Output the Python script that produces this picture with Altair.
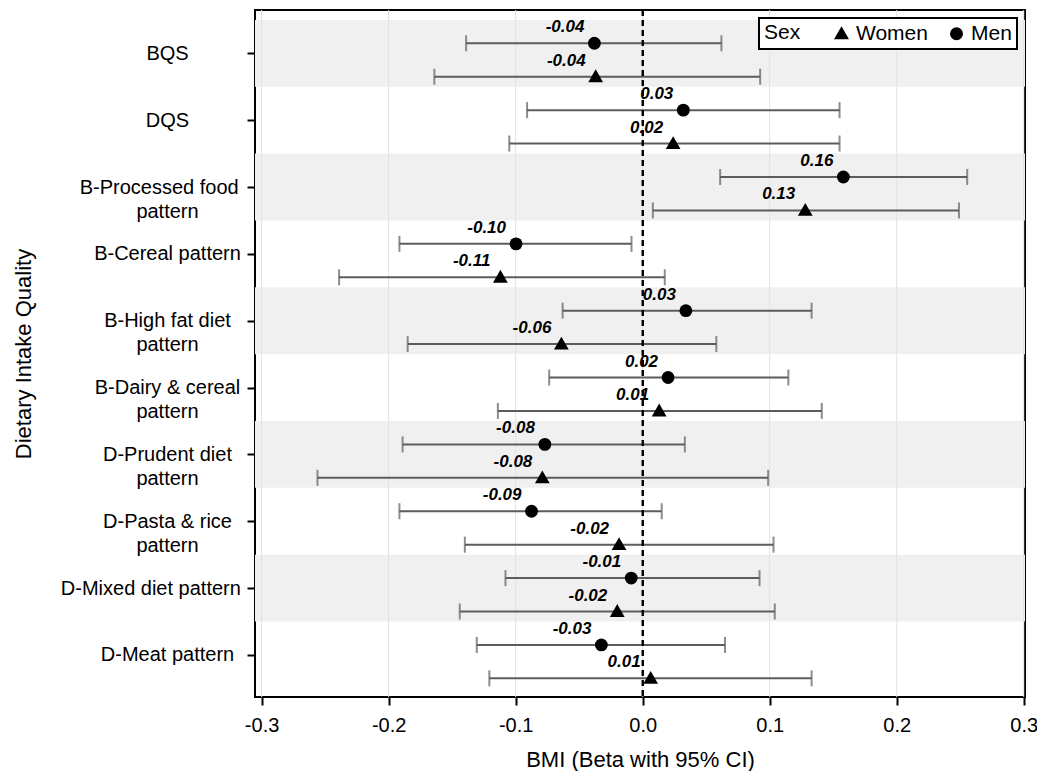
import altair as alt
import pandas as pd

# ---------------- data ----------------
CATEGORIES = [
    "BQS", "DQS", "B-Processed food pattern", "B-Cereal pattern",
    "B-High fat diet pattern", "B-Dairy & cereal pattern", "D-Prudent diet pattern",
    "D-Pasta & rice pattern", "D-Mixed diet pattern", "D-Meat pattern",
]
# axis label lines; trailing NBSPs (closed by a zero-width char so they are not trimmed)
# shift the widest labels left, as in the original
NB = "\u00a0"
ZW = "\u200b"
LABEL_LINES = [
    ["BQS"], ["DQS"], ["B-Processed food" + NB * 3 + ZW, "pattern"], ["B-Cereal pattern"],
    ["B-High fat diet", "pattern"], ["B-Dairy & cereal", "pattern"],
    ["D-Prudent diet", "pattern"], ["D-Pasta & rice", "pattern"],
    ["D-Mixed diet pattern" + NB * 6 + ZW], ["D-Meat pattern"],
]

MEN_BETA = [-0.038, 0.032, 0.158, -0.0997, 0.034, 0.020, -0.077, -0.0875, -0.009, -0.0325]
MEN_LO = [-0.139, -0.091, 0.061, -0.1915, -0.063, -0.0736, -0.189, -0.1915, -0.108, -0.1306]
MEN_HI = [0.062, 0.155, 0.2555, -0.0088, 0.133, 0.1147, 0.0332, 0.015, 0.092, 0.0648]

WOMEN_BETA = [-0.037, 0.024, 0.128, -0.112, -0.064, 0.013, -0.079, -0.0186, -0.020, 0.0063]
WOMEN_LO = [-0.164, -0.105, 0.008, -0.239, -0.185, -0.114, -0.256, -0.140, -0.144, -0.1207]
WOMEN_HI = [0.0925, 0.155, 0.249, 0.0174, 0.058, 0.141, 0.0988, 0.103, 0.104, 0.133]

SEXES = ["Women", "Men"]
X_TICKS = [-0.3, -0.2, -0.1, 0.0, 0.1, 0.2, 0.3]

# ---------------- layout constants ----------------
MEN_OFF, WOMEN_OFF = -0.15, 0.35
X_DOMAIN = [-0.3052, 0.301]
Y_DOMAIN = [-0.648, 9.629]
FONT = "Liberation Sans"
TRIANGLE = "M-1.15,0.85L1.15,0.85L0,-1.15Z"

rows = []
for i, c in enumerate(CATEGORIES):
    rows.append(dict(cat=c, idx=i, sex="Men", pos=i + MEN_OFF,
                     beta=MEN_BETA[i], lo=MEN_LO[i], hi=MEN_HI[i]))
    rows.append(dict(cat=c, idx=i, sex="Women", pos=i + WOMEN_OFF,
                     beta=WOMEN_BETA[i], lo=WOMEN_LO[i], hi=WOMEN_HI[i]))
df = pd.DataFrame(rows)

bands = pd.DataFrame([dict(y0=i - 0.5, y1=i + 0.5) for i in range(len(CATEGORIES)) if i % 2 == 0])
grid = pd.DataFrame(dict(v=X_TICKS))

label_js = "[" + ",".join("[" + ",".join("'" + s + "'" for s in lines) + "]" for lines in LABEL_LINES) + "]"

x_scale = alt.Scale(domain=X_DOMAIN, nice=False, zero=False)
y_scale = alt.Scale(domain=Y_DOMAIN, nice=False, zero=False, reverse=True)

x_axis = alt.Axis(values=X_TICKS,
                  labelExpr="datum.value < -0.0001 ? '-' + format(-datum.value, '.1f') : format(abs(datum.value), '.1f')",
                  title="BMI (Beta with 95% CI)",
                  tickSize=8, tickWidth=2, tickColor="black", labelFontSize=20,
                  labelPadding=10, titleFontSize=22, titleFontWeight="normal",
                  titleY=62, titleBaseline="middle", labelFlush=False, labelOverlap=False)
y_axis = alt.Axis(values=list(range(len(CATEGORIES))), labelExpr=label_js + "[datum.value]",
                  title="Dietary Intake Quality", tickSize=8, tickWidth=2, tickColor="black",
                  labelFontSize=20, labelAlign="center", labelBaseline="middle", labelLimit=400,
                  labelPadding=80, labelLineHeight=24, labelFlush=False, labelOverlap=False,
                  titleFontSize=22, titleFontWeight="normal", titleX=-232, titleY=343.5,
                  titleBaseline="middle", titleAngle=270)


def X(field):
    return alt.X(field, type="quantitative", scale=x_scale, axis=x_axis)


def Y(field):
    return alt.Y(field, type="quantitative", scale=y_scale, axis=y_axis)


band_layer = alt.Chart(bands).mark_rect(color="#f0f0f0").encode(
    x=alt.datum(X_DOMAIN[0], scale=x_scale, axis=x_axis), x2=alt.datum(X_DOMAIN[1]),
    y=Y("y0"), y2="y1")

grid_layer = alt.Chart(grid).mark_rule(color="#e2e2e2", strokeWidth=1).encode(x=X("v"))

err_layer = alt.Chart(df).mark_rule(color="#5c5c5c", strokeWidth=2).encode(
    x=X("lo"), x2="hi", y=Y("pos"))
cap_lo = alt.Chart(df).mark_tick(color="#5c5c5c", orient="vertical", size=16, thickness=2).encode(
    x=X("lo"), y=Y("pos"))
cap_hi = alt.Chart(df).mark_tick(color="#5c5c5c", orient="vertical", size=16, thickness=2).encode(
    x=X("hi"), y=Y("pos"))

zero_layer = alt.Chart(grid).mark_rule(color="black", strokeWidth=1.5, strokeDash=[6, 4]).encode(
    x=alt.datum(0, scale=x_scale, axis=x_axis))

point_layer = alt.Chart(df).mark_point(filled=True, size=165, opacity=1, color="black").encode(
    x=X("beta"), y=Y("pos"),
    shape=alt.Shape("sex:N", scale=alt.Scale(domain=SEXES, range=[TRIANGLE, "circle"]),
                    legend=alt.Legend(title="Sex", orient="top-right", direction="horizontal",
                                      titleOrient="left", strokeColor="black", fillColor="white",
                                      padding=5, offset=8, labelFontSize=21, titleFontSize=21,
                                      titleFontWeight="normal", symbolSize=170,
                                      symbolFillColor="black", symbolStrokeColor="black",
                                      columnPadding=18, titlePadding=30, labelColor="black",
                                      titleColor="black", titleBaseline="middle", titleAnchor="middle")))

text_layer = alt.Chart(df).transform_calculate(
    lab="datum.beta < 0 ? '-' + format(-datum.beta, '.2f') : format(datum.beta, '.2f')"
).mark_text(align="right", baseline="alphabetic", dx=-10, dy=-11,
            fontSize=17, fontWeight="bold", fontStyle="italic",
            color="black", font=FONT).encode(
    x=X("beta"), y=Y("pos"), text="lab:N")

chart = alt.layer(band_layer, grid_layer, err_layer, cap_lo, cap_hi, zero_layer,
                  point_layer, text_layer).properties(
    width=770, height=687,
    autosize=alt.AutoSizeParams(type="none"),
    padding={"left": 247, "top": 2, "right": 12, "bottom": 74},
    background="white",
).configure_view(stroke="black", strokeWidth=2).configure_axis(
    domain=False, grid=False, labelFont=FONT, titleFont=FONT, labelColor="black", titleColor="black"
).configure_legend(labelFont=FONT, titleFont=FONT, strokeWidth=2)

chart.save("out.html", embed_options={"renderer": "svg", "actions": False})
